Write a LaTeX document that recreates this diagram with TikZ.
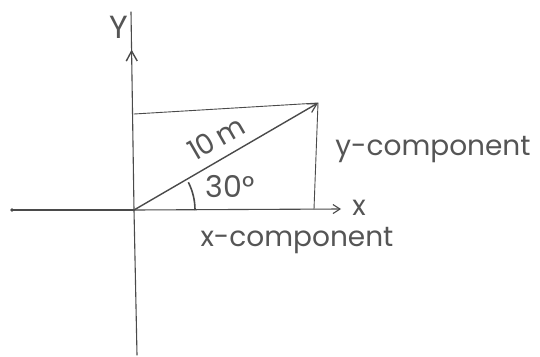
\documentclass[tikz,border=0pt]{standalone}
\usepackage{fontspec}
\setmainfont{Poppins}
\usetikzlibrary{arrows.meta,decorations.markings}
\definecolor{pencil}{HTML}{4A4A4A}
\definecolor{ink}{HTML}{555555}
\tikzset{
  axisline/.style={draw=pencil,line width=1.1pt,line cap=round},
  thinline/.style={draw=pencil,line width=0.9pt,line cap=round},
  vecline/.style={draw=pencil,line width=1.4pt,line cap=round,-{Straight Barb[length=9pt,width=10pt,line width=1.2pt]}},
  hand/.style={text=ink,font=\fontsize{28}{30}\selectfont,inner sep=0pt},
  midarrow/.style={postaction={decorate},decoration={markings,mark=at position #1 with {\arrow{Straight Barb[length=10pt,width=11pt,line width=1.4pt]}}}}
}
\begin{document}
\begin{tikzpicture}[x=1pt,y=-1pt]
\useasboundingbox (0,0) rectangle (540,356);
\fill[white] (0,0) rectangle (540,356);
% points
\coordinate (O) at (134,210);
\coordinate (xl) at (12,210);
\coordinate (xr) at (341,209);
\coordinate (yb) at (137,355);
\coordinate (yt) at (131,12);
\coordinate (P) at (318,103);
\coordinate (Ptop) at (134,114);
\coordinate (Pbot) at (314,209);
% axes
\draw[axisline] (xl) -- (O);
\draw[axisline,-{Straight Barb[length=7pt,width=9pt,line width=1.1pt]}] (O) -- (xr);
\fill[pencil] (xl) circle (1.8pt);
\draw[axisline] (yb) -- (O);
\draw[axisline,midarrow=0.81] (O) -- (yt);
% rectangle sides
\draw[thinline] (Ptop) -- (P);
\draw[thinline] (P) -- (Pbot);
% vector
\draw[vecline] (O) -- (P);
% angle arc
\draw[pencil,line width=1.6pt] (195,210) arc[start angle=0,end angle=-27,radius=61];
% labels
\node[hand] (Ylab) at (119,27) {\fontsize{32}{34}\selectfont Y};
\node[hand] (xlab) at (359,208) {x};
\node[hand,rotate=30] (mag) at (216,138) {10\,m};
\node[hand] (ang) at (230,187) {\fontsize{30}{32}\selectfont 30°};
\node[hand] (ycomp) at (433,150) {y-component};
\node[hand] (xcomp) at (297,241) {x-component};
\end{tikzpicture}
\end{document}
